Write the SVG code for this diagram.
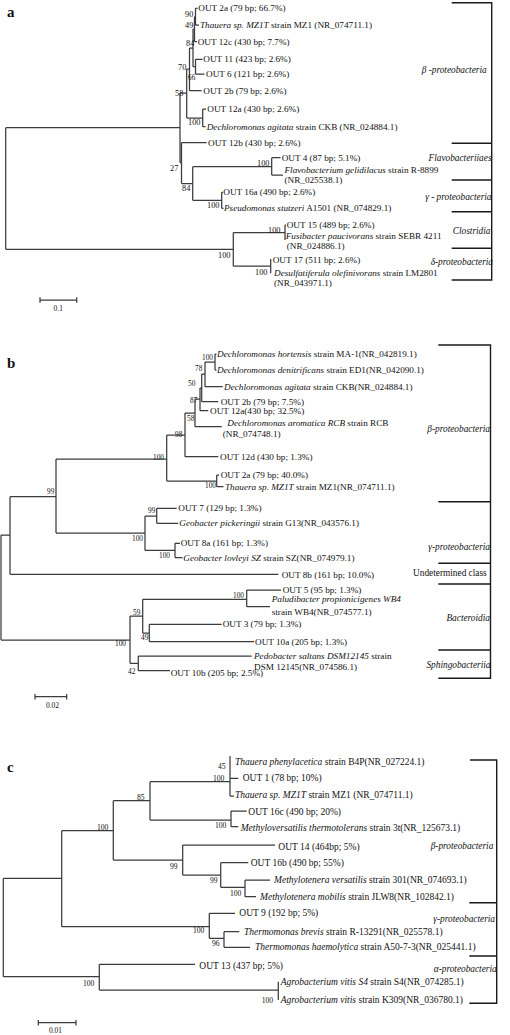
<svg xmlns="http://www.w3.org/2000/svg" width="510" height="1035" viewBox="0 0 510 1035">
<style>
text{font-family:"Liberation Serif","Times New Roman",serif;fill:#111}
.l{font-size:9.2px}
.lc{font-size:9.5px}
.i{font-style:italic}
.bs{font-size:8.3px}
.bb{font-size:7.3px}
.bc{font-size:7.6px}
.cl{font-size:9.3px;font-style:italic;text-anchor:end}
.cn{font-size:9.3px;font-style:normal;text-anchor:end}
.pl{font-size:15px;font-weight:bold}
.sc{font-size:7.5px;text-anchor:middle}
.tr{fill:none;stroke:#3c3c3c;stroke-width:1.25}
.br{fill:none;stroke:#1a1a1a;stroke-width:1.4}
</style>
<rect width="510" height="1035" fill="#fff"/>

<!-- ============ PANEL A ============ -->
<g id="panel-a">
<text class="pl" x="7" y="17">a</text>
<g id="a-connectors">
<path class="tr" d="M5.7,127.7V249.3M5.7,127.7H180M5.7,249.3H233.3
M180,93V162.6M180,93H186.7M180,162.6H181.5
M186.7,69V118M186.7,69H189.5M186.7,118H202.7
M189.5,48V90.7M189.5,48H193M189.5,90.7H201.7
M193,29V66.7M193,29H194.5M193,66.7H195.5
M194.5,16.7V41.7M194.5,16.7H195.5M194.5,41.7H197
M195.5,8.3V25M195.5,8.3H197.5M195.5,25H199
M195.5,59.3V74M195.5,59.3H202.5M195.5,74H204.5
M202.7,109V126.7M202.7,109H206M202.7,126.7H205.5
M181.5,142.7V183.5M181.5,142.7H206.7M181.5,183.5H192.7
M192.7,166.7V200.3M192.7,166.7H271.7M192.7,200.3H221.7
M271.7,157.7V175M271.7,157.7H280.5M271.7,175H283
M221.7,192.3V208.3M221.7,192.3H223M221.7,208.3H223.5
M233.3,232.5V266.2M233.3,232.5H285M233.3,266.2H270.7
M285,225V240M285,225H286"/>
<path class="tr" d="M270.7,259V273.3"/>
<path class="tr" d="M40,300H76.7M40,297.3V302.7M76.7,297.3V302.7"/>
<path class="br" d="M451.7,2.7H491.7V280H451.7M451.7,143.3H491.7M451.7,180H491.7M451.7,211.7H491.7M451.7,248.3H491.7"/>
</g>
<g id="a-bootstrap" class="bs">
<text x="185" y="16.5">90</text>
<text x="185" y="28">49</text>
<text x="186" y="46">84</text>
<text x="178" y="69.5">70</text>
<text x="188" y="79.5" font-size="7.3">66</text>
<text x="175" y="95.5">58</text>
<text x="188" y="124.5">100</text>
<text x="170" y="171">27</text>
<text x="182" y="191">84</text>
<text x="257" y="166">100</text>
<text x="207" y="208">100</text>
<text x="268" y="233">100</text>
<text x="218" y="258">100</text>
<text x="255" y="274.7">100</text>
</g>
<g id="a-out2a"><text class="l" x="198.3" y="11.3">OUT 2a (79 bp; 66.7%)</text></g>
<g id="a-thauera"><text class="l" x="200" y="28"><tspan class="i">Thauera sp. MZ1T</tspan> strain MZ1 (NR_074711.1)</text></g>
<g id="a-out12c"><text class="l" x="197.7" y="44.7">OUT 12c (430 bp; 7.7%)</text></g>
<g id="a-out11"><text class="l" x="203.3" y="62.3">OUT 11 (423 bp; 2.6%)</text></g>
<g id="a-out6"><text class="l" x="206" y="77">OUT 6 (121 bp; 2.6%)</text></g>
<g id="a-out2b"><text class="l" x="203.3" y="93.7">OUT 2b (79 bp; 2.6%)</text></g>
<g id="a-out12a"><text class="l" x="207.3" y="112">OUT 12a (430 bp; 2.6%)</text></g>
<g id="a-dechlor"><text class="l" x="206.7" y="129.7"><tspan class="i">Dechloromonas agitata</tspan> strain CKB (NR_024884.1)</text></g>
<g id="a-out12b"><text class="l" x="208" y="145.7">OUT 12b (430 bp; 2.6%)</text></g>
<g id="a-out4"><text class="l" x="281.7" y="160.7">OUT 4 (87 bp; 5.1%)</text></g>
<g id="a-flavo"><text class="l" x="284.5" y="172.5"><tspan class="i">Flavobacterium gelidilacus</tspan> strain R-8899</text><text class="l" x="284.5" y="183">(NR_025538.1)</text></g>
<g id="a-out16a"><text class="l" x="223.3" y="195.3">OUT 16a (490 bp; 2.6%)</text></g>
<g id="a-pseudo"><text class="l" x="224" y="211.3"><tspan class="i">Pseudomonas stutzeri</tspan> A1501 (NR_074829.1)</text></g>
<g id="a-out15"><text class="l" x="286.7" y="228">OUT 15 (489 bp; 2.6%)</text></g>
<g id="a-fusi"><text class="l" x="285.7" y="238.7"><tspan class="i">Fusibacter paucivorans</tspan> strain SEBR 4211</text><text class="l" x="286.7" y="248.7">(NR_024886.1)</text></g>
<g id="a-out17"><text class="l" x="272.7" y="263">OUT 17 (511 bp; 2.6%)</text></g>
<g id="a-desulf"><text class="l" x="274" y="276.3"><tspan class="i">Desulfatiferula olefinivorans</tspan> strain LM2801</text><text class="l" x="274" y="286.3">(NR_043971.1)</text></g>
<g id="a-scale"><text class="sc" x="58.3" y="311">0.1</text></g>
<g id="a-clades">
<text class="cl" x="486.7" y="73">β -proteobacteria</text>
<text class="cl" x="491.5" y="161">Flavobacteriiaes</text>
<text class="cl" x="491.5" y="200.3">γ - proteobacteria</text>
<text class="cl" x="490.5" y="233.7">Clostridia</text>
<text class="cl" x="493" y="264.7">δ-proteobacteria</text>
</g>
</g>

<!-- ============ PANEL B ============ -->
<g id="panel-b">
<text class="pl" x="7" y="368">b</text>
<g id="b-connectors">
<path class="tr" d="M1,535V640M1,535H10M1,640H130
M10,496.7V574.3M10,496.7H56M10,574.3H278.3
M56,459V533M56,459H166.7M56,533H145
M166.7,435V481M166.7,435H185M166.7,481H216.7
M185,413V456.7M185,413H195M185,456.7H218.3
M195,399V426.7M195,399H200M195,426.7H221.7
M200,388V410.7M200,388H201.7M200,410.7H208.3
M201.7,374V401.7M201.7,374H205M201.7,401.7H218.3
M205,362V386.7M205,362H215M205,386.7H222.7
M215,354V370M215,354H216.5M215,370H216.5
M216.7,475V486.7M216.7,475H219M216.7,486.7H223.5
M145,516V550.4M145,516H156.7M145,550.4H175
M156.7,508.3V523.3M156.7,508.3H176.7M156.7,523.3H178.3
M175,543.3V557.5M175,543.3H180M175,557.5H182.5
M130,616V663.3M130,616H142.7M130,663.3H138.3
M142.7,599.3V633M142.7,599.3H246.7M142.7,633H149.3
M246.7,590V606.7M246.7,590H281M246.7,606.7H270
M149.3,624.3V641.7M149.3,624.3H221.7M149.3,641.7H254
M138.3,656V670.7M138.3,656H251.7M138.3,670.7H170"/>
<path class="tr" d="M35,696.7H66.7M35,694V699.4M66.7,694V699.4"/>
<path class="br" d="M438.3,345H490.5V678.3H438.3M438.3,501.7H490.5M438.3,563.3H490.5M438.3,584H490.5M438.3,650H490.5"/>
</g>
<g id="b-bootstrap" class="bb">
<text x="202" y="359.5">100</text>
<text x="195" y="371">78</text>
<text x="188" y="386">50</text>
<text x="190" y="403">87</text>
<text x="187" y="421">58</text>
<text x="175" y="437">98</text>
<text x="153" y="459.5">100</text>
<text x="205" y="488">100</text>
<text x="47" y="494">99</text>
<text x="148" y="513">99</text>
<text x="132" y="540.5">100</text>
<text x="159" y="558">100</text>
<text x="233" y="598">100</text>
<text x="133" y="615">59</text>
<text x="141" y="639.5">49</text>
<text x="115" y="646">100</text>
<text x="128" y="673.5">42</text>
</g>
<g id="b-dhort"><text class="l" x="217" y="357"><tspan class="i">Dechloromonas hortensis</tspan> strain MA-1(NR_042819.1)</text></g>
<g id="b-ddenit"><text class="l" x="217" y="373"><tspan class="i">Dechloromonas denitrificans</tspan> strain ED1(NR_042090.1)</text></g>
<g id="b-dagit"><text class="l" x="224" y="389.7"><tspan class="i">Dechloromonas agitata</tspan> strain CKB(NR_024884.1)</text></g>
<g id="b-out2b"><text class="l" x="220.7" y="404.7">OUT 2b (79 bp; 7.5%)</text></g>
<g id="b-out12a"><text class="l" x="210" y="413.7">OUT 12a(430 bp; 32.5%)</text></g>
<g id="b-darom"><text class="l" x="227.3" y="425.7"><tspan class="i">Dechloromonas aromatica RCB</tspan> strain RCB</text><text class="l" x="222.7" y="437">(NR_074748.1)</text></g>
<g id="b-out12d"><text class="l" x="220" y="459.7">OUT 12d (430 bp; 1.3%)</text></g>
<g id="b-out2a"><text class="l" x="220.7" y="478">OUT 2a (79 bp; 40.0%)</text></g>
<g id="b-thauera"><text class="l" x="225" y="489.7"><tspan class="i">Thauera sp. MZ1T</tspan> strain MZ1(NR_074711.1)</text></g>
<g id="b-out7"><text class="l" x="178.3" y="511.3">OUT 7 (129 bp; 1.3%)</text></g>
<g id="b-gpick"><text class="l" x="179.3" y="526.3"><tspan class="i">Geobacter pickeringii</tspan> strain G13(NR_043576.1)</text></g>
<g id="b-out8a"><text class="l" x="180.7" y="546.3">OUT 8a (161 bp; 1.3%)</text></g>
<g id="b-glov"><text class="l" x="183.3" y="561"><tspan class="i">Geobacter lovleyi SZ</tspan> strain SZ(NR_074979.1)</text></g>
<g id="b-out8b"><text class="l" x="281.7" y="578">OUT 8b (161 bp; 10.0%)</text></g>
<g id="b-out5"><text class="l" x="282.7" y="593">OUT 5 (95 bp; 1.3%)</text></g>
<g id="b-palud"><text class="l i" x="271.7" y="602.3">Paludibacter propionicigenes WB4</text><text class="l" x="271.7" y="614.7">strain WB4(NR_074577.1)</text></g>
<g id="b-out3"><text class="l" x="222.7" y="627.3">OUT 3 (79 bp; 1.3%)</text></g>
<g id="b-out10a"><text class="l" x="255" y="644.7">OUT 10a (205 bp; 1.3%)</text></g>
<g id="b-pedo"><text class="l" x="254" y="658.5"><tspan class="i">Pedobacter saltans DSM12145</tspan> strain</text><text class="l" x="254" y="669.5">DSM 12145(NR_074586.1)</text></g>
<g id="b-out10b"><text class="l" x="170.7" y="675.7">OUT 10b (205 bp; 2.5%)</text></g>
<g id="b-scale"><text class="sc" x="52.5" y="707.5">0.02</text></g>
<g id="b-clades">
<text class="cl" x="490" y="432.3">β-proteobacteria</text>
<text class="cl" x="490" y="549.7">γ-proteobacteria</text>
<text class="cn" x="486.7" y="576.3">Undetermined class</text>
<text class="cl" x="490" y="621.3">Bacteroidia</text>
<text class="cl" x="490.5" y="668">Sphingobacteriia</text>
</g>
</g>

<!-- ============ PANEL C ============ -->
<g id="panel-c">
<text class="pl" x="7" y="772">c</text>
<g id="c-connectors">
<path class="tr" d="M3.3,878.3V976.7M3.3,878.3H61.7M3.3,976.7H99.3
M61.7,830.7V926.7M61.7,830.7H113.3M61.7,926.7H209.3
M113.3,800.7V860M113.3,800.7H150M113.3,860H182.7
M150,781.7V820M150,781.7H230M150,820H231
M230,756V796M230,778.3H238.3M230,796H234
M231,811V826.7M231,811H246.7M231,826.7H238.3
M182.7,845V875M182.7,845H275M182.7,875H220.7
M220.7,862.7V887.3M220.7,862.7H248.3M220.7,887.3H245
M245,880V896.7M245,880H270M245,896.7H256
M209.3,913.3V938.3M209.3,913.3H235M209.3,938.3H224
M224,931.7V947.3M224,931.7H239.3M224,947.3H250
M99.3,964.3V990M99.3,964.3H195M99.3,990H278.3
M278.3,981.7V1000"/>
<path class="tr" d="M38.3,1022.7H76M38.3,1020V1025.4M76,1020V1025.4"/>
<path class="br" d="M470,760H496.7V1003.3H469.3M469.3,902.7H496.7M469.3,956H496.7"/>
</g>
<g id="c-bootstrap" class="bc">
<text x="218" y="769">45</text>
<text x="213" y="781">100</text>
<text x="137" y="799.5">85</text>
<text x="97" y="829.5">100</text>
<text x="215" y="828">100</text>
<text x="170" y="869">99</text>
<text x="210" y="883">99</text>
<text x="230" y="896">100</text>
<text x="193" y="933">100</text>
<text x="212" y="946">96</text>
<text x="83" y="985.5">100</text>
<text x="261.7" y="1003">100</text>
</g>
<g id="c-tphen"><text class="lc" x="235" y="764.7"><tspan class="i">Thauera phenylacetica</tspan> strain B4P(NR_027224.1)</text></g>
<g id="c-out1"><text class="lc" x="242.7" y="781.3">OUT 1 (78 bp; 10%)</text></g>
<g id="c-thauera"><text class="lc" x="235" y="798"><tspan class="i">Thauera sp. MZ1T</tspan> strain MZ1 (NR_074711.1)</text></g>
<g id="c-out16c"><text class="lc" x="248.3" y="814.7">OUT 16c (490 bp; 20%)</text></g>
<g id="c-mthermo"><text class="lc" x="240.7" y="831.3"><tspan class="i">Methyloversatilis thermotolerans</tspan> strain 3t(NR_125673.1)</text></g>
<g id="c-out14"><text class="lc" x="278.3" y="849.7">OUT 14 (464bp; 5%)</text></g>
<g id="c-out16b"><text class="lc" x="250.7" y="866.3">OUT 16b (490 bp; 55%)</text></g>
<g id="c-mvers"><text class="lc" x="274" y="883"><tspan class="i">Methylotenera versatilis</tspan> strain 301(NR_074693.1)</text></g>
<g id="c-mmob"><text class="lc" x="260" y="899.7"><tspan class="i">Methylotenera mobilis</tspan> strain JLW8(NR_102842.1)</text></g>
<g id="c-out9"><text class="lc" x="239.3" y="916.3">OUT 9 (192 bp; 5%)</text></g>
<g id="c-tbrev"><text class="lc" x="244" y="934.7"><tspan class="i">Thermomonas brevis</tspan> strain R-13291(NR_025578.1)</text></g>
<g id="c-thaem"><text class="lc" x="255" y="950.3"><tspan class="i">Thermomonas haemolytica</tspan> strain A50-7-3(NR_025441.1)</text></g>
<g id="c-out13"><text class="lc" x="199.3" y="968.7">OUT 13 (437 bp; 5%)</text></g>
<g id="c-agro1"><text class="lc" x="280.7" y="985"><tspan class="i">Agrobacterium vitis S4</tspan> strain S4(NR_074285.1)</text></g>
<g id="c-agro2"><text class="lc" x="280.7" y="1003"><tspan class="i">Agrobacterium vitis</tspan> strain K309(NR_036780.1)</text></g>
<g id="c-scale"><text class="sc" x="55.5" y="1033">0.01</text></g>
<g id="c-clades">
<text class="cl" x="493.3" y="848.7">β-proteobacteria</text>
<text class="cl" x="495" y="922.3">γ-proteobacteria</text>
<text class="cl" x="496.7" y="972.3">α-proteobacteria</text>
</g>
</g>
</svg>
